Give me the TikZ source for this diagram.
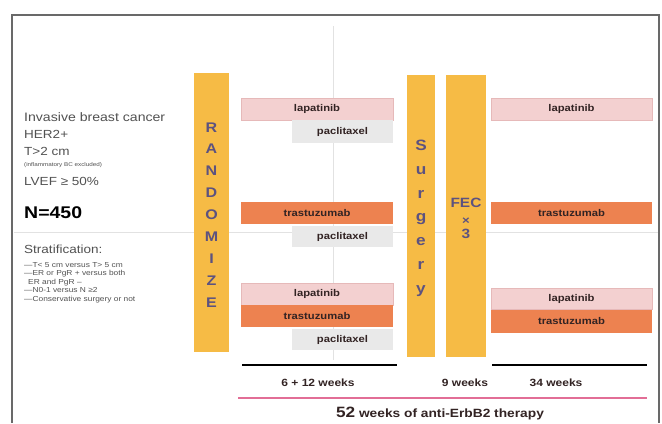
\documentclass[tikz,border=0pt]{standalone}
\usepackage{fontspec}
\setmainfont{Liberation Sans}[FakeStretch=1.15]
\definecolor{barc}{RGB}{246,187,69}
\definecolor{lapc}{RGB}{243,208,208}
\definecolor{lapb}{RGB}{230,185,185}
\definecolor{trac}{RGB}{237,130,80}
\definecolor{pacc}{RGB}{233,233,233}
\definecolor{letc}{RGB}{92,82,128}
\definecolor{txtc}{RGB}{82,82,82}
\definecolor{boxt}{RGB}{50,35,35}
\definecolor{pinkl}{RGB}{226,110,150}
\definecolor{framec}{RGB}{105,105,105}
\definecolor{gridc}{RGB}{226,226,226}
\begin{document}
\begin{tikzpicture}[x=1bp,y=-1bp,
  drug/.style={anchor=north west,inner sep=0pt,outer sep=0pt,
    font=\fontsize{9.8}{11}\selectfont\bfseries,text=boxt},
  lap/.style={drug,fill=lapc,draw=lapb,line width=0.4bp,minimum height=22bp},
  tra/.style={drug,fill=trac,minimum height=22bp},
  pac/.style={drug,fill=pacc,minimum height=22bp},
  bar/.style={anchor=north west,fill=barc,inner sep=0pt,outer sep=0pt},
  barlet/.style={anchor=base,inner sep=0pt,text=letc,font=\fontsize{14}{16}\selectfont\bfseries},
  lefttxt/.style={anchor=base west,inner sep=0pt,text=txtc},
  weeks/.style={anchor=base,inner sep=0pt,text=boxt,font=\fontsize{10.5}{12}\selectfont\bfseries},
]
\useasboundingbox (0,0) rectangle (662,423);
\fill[white] (0,0) rectangle (662,423);
% grid lines
\draw[gridc,line width=1bp] (333,26) -- (333,360);
\draw[gridc,line width=1bp] (14,232) -- (658,232);
% frame
\draw[framec,line width=1.4bp] (12,423) -- (12,15) -- (659,15) -- (659,423);

% bars
\node[bar,minimum width=35bp,minimum height=279bp] (rand) at (194,73) {};
\node[bar,minimum width=28bp,minimum height=282bp] (surg) at (407,75) {};
\node[bar,minimum width=40bp,minimum height=282bp] (fec) at (446,75) {};
\foreach \l [count=\i from 0] in {R,A,N,D,O,M,I,Z,E}
  \node[barlet] (r\i) at (211.5,{132+21.9*\i}) {\l};
\foreach \l [count=\i from 0] in {S,u,r,g,e,r,y}
  \node[barlet,font=\fontsize{15}{17}\selectfont\bfseries] (s\i) at (421,{150.5+23.8*\i}) {\l};
\node[barlet,font=\fontsize{13.5}{15}\selectfont\bfseries] (fec1) at (466,207.5) {FEC};
\node[barlet,font=\fontsize{11.5}{13}\selectfont\bfseries] (fec2) at (466,224) {×};
\node[barlet,font=\fontsize{13.5}{15}\selectfont\bfseries] (fec3) at (466,238.5) {3};

% left arm boxes
\node[lap,minimum width=152bp] (l1) at (241,98) {lapatinib};
\node[pac,minimum width=101bp,minimum height=23bp] (p1) at (292,120) {paclitaxel};
\node[tra,minimum width=152bp] (t2) at (241,202) {trastuzumab};
\node[pac,minimum width=101bp,minimum height=21bp] (p2) at (292,226) {paclitaxel};
\node[lap,minimum width=152bp] (l3) at (241,283) {lapatinib};
\node[tra,minimum width=152bp] (t3) at (241,305) {trastuzumab};
\node[pac,minimum width=101bp,minimum height=21bp] (p3) at (292,329) {paclitaxel};
% right arm boxes
\node[lap,minimum width=161bp] (rl1) at (491,98) {lapatinib};
\node[tra,minimum width=161bp] (rt2) at (491,202) {trastuzumab};
\node[lap,minimum width=161bp,minimum height=21bp] (rl3) at (491,288) {lapatinib};
\node[tra,minimum width=161bp,minimum height=23bp] (rt3) at (491,310) {trastuzumab};

% left text
\node[lefttxt,font=\fontsize{12.3}{14}\selectfont] (t1) at (24,121) {Invasive breast cancer};
\node[lefttxt,font=\fontsize{11.8}{13}\selectfont] (t2a) at (24,138) {HER2+};
\node[lefttxt,font=\fontsize{11.8}{13}\selectfont] (t3a) at (24,155) {T>2 cm};
\node[lefttxt,font=\fontsize{5.5}{6}\selectfont] (t4) at (24,166.5) {(inflammatory BC excluded)};
\node[lefttxt,font=\fontsize{11.8}{13}\selectfont] (t5) at (24,185) {LVEF ≥ 50\%};
\node[lefttxt,text=black,font=\fontsize{17}{19}\selectfont\bfseries] (n450) at (24,218) {N=450};
\node[lefttxt,font=\fontsize{11.8}{13}\selectfont] (strat) at (24,253) {Stratification:};
\node[lefttxt,font=\fontsize{7.3}{8}\selectfont] (s1) at (24,267) {—T< 5 cm versus T> 5 cm};
\node[lefttxt,font=\fontsize{7.3}{8}\selectfont] (s2) at (24,275.5) {—ER or PgR + versus both};
\node[lefttxt,font=\fontsize{7.3}{8}\selectfont] (s3) at (28,284) {ER and PgR –};
\node[lefttxt,font=\fontsize{7.3}{8}\selectfont] (s4) at (24,292.5) {—N0-1 versus N ≥2};
\node[lefttxt,font=\fontsize{7.3}{8}\selectfont] (s5) at (24,301) {—Conservative surgery or not};

% timeline
\coordinate (a1) at (242,365); \coordinate (a2) at (397,365);
\coordinate (b1) at (492,365); \coordinate (b2) at (647,365);
\coordinate (c1) at (238,398); \coordinate (c2) at (647,398);
\draw[black,line width=2.6bp] (a1) -- (a2);
\draw[black,line width=2.6bp] (b1) -- (b2);
\draw[pinkl,line width=2.6bp] (c1) -- (c2);
\node[weeks] (w1) at (318,386) {6 + 12 weeks};
\node[weeks] (w2) at (465,386) {9 weeks};
\node[weeks] (w3) at (556,386) {34 weeks};
\node[anchor=base,inner sep=0pt,text=boxt,font=\fontsize{12}{14}\selectfont\bfseries] (w52) at (440,417) {{\fontsize{15}{17}\selectfont 52} weeks of anti-ErbB2 therapy};
\end{tikzpicture}
\end{document}
